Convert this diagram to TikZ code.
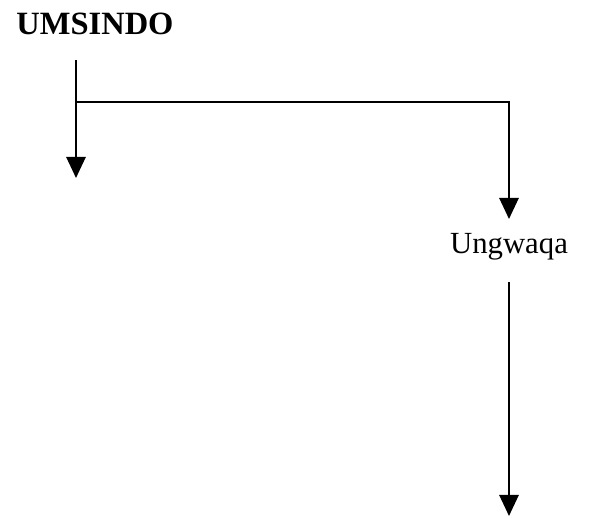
\documentclass[tikz,border=0pt]{standalone}
\usepackage{fontspec}
\setmainfont{Liberation Serif}
\usetikzlibrary{arrows.meta}

\begin{document}
\begin{tikzpicture}[->,>={Triangle[width=11pt,length=12pt]},line width=1.1pt,
  x=0.02cm,y=-0.02cm,
  word node/.style={inner sep=0pt,font=\fontsize{17.5}{20}\selectfont}]
  \useasboundingbox (0,0) rectangle (596,519);

  \node[word node,font=\fontsize{18.5}{22}\selectfont\bfseries] (umsindo) at (95,24) {UMSINDO};
  \node[word node] (ungwaqa) at (509,247) {Ungwaqa};

  \coordinate (top) at (76,60);
  \coordinate (branch) at (76,102);
  \coordinate (left end) at (76,178);
  \coordinate (corner) at (509,102);
  \coordinate (right end) at (509,219);
  \coordinate (low start) at (509,282);
  \coordinate (bottom end) at (509,516);

  \draw (top) -- (left end);
  \draw (branch) -- (corner) -- (right end);
  \draw (low start) -- (bottom end);

%\draw[draw=none] (435,83) node {.};
\end{tikzpicture}
\end{document}
